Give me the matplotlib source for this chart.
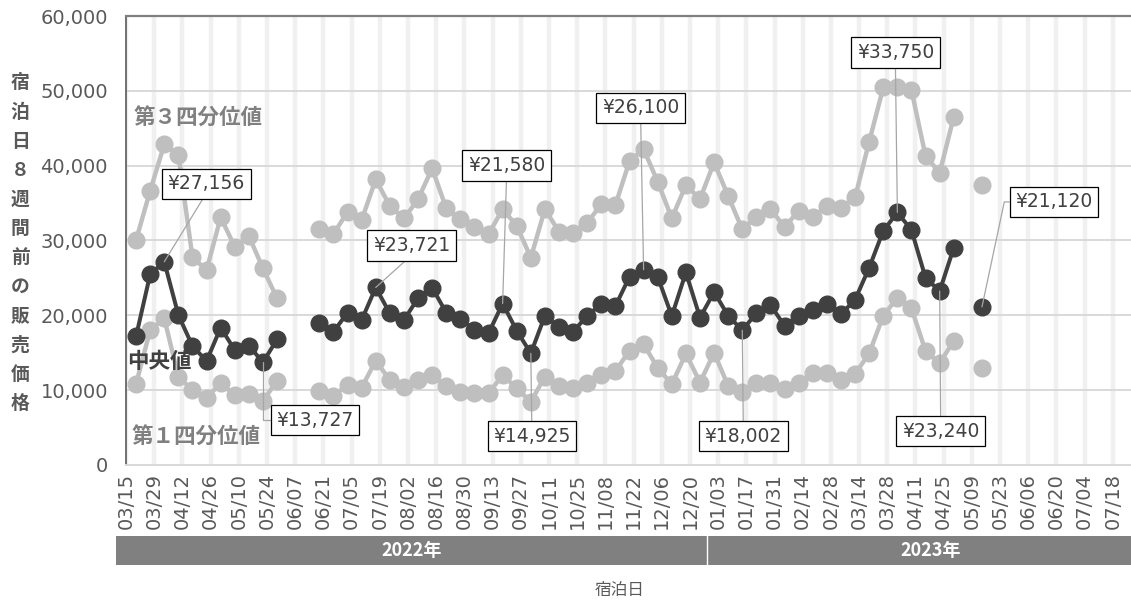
import numpy as np
import pandas as pd
import matplotlib
matplotlib.use("Agg")
import matplotlib.pyplot as plt
from matplotlib.patches import Rectangle
from matplotlib.transforms import blended_transform_factory

plt.rcParams['font.family'] = ['DejaVu Sans', 'Noto Sans CJK JP']

# weekly stay dates (Sundays)
week_dates = pd.date_range("2022-03-20", periods=61, freq="7D")
nan = np.nan

median = [17200, 25480, 27156, 20040, 15900, 13900, 18350, 15360, 15940, 13727,
          16790, nan, nan, 18930, 17810, 20350, 19370, 23721, 20260, 19370,
          22300, 23700, 20350, 19500, 18100, 17600, 21580, 17950, 14925, 19950,
          18390, 17810, 19950, 21510, 21240, 25160, 26100, 25160, 19900, 25740,
          19700, 23100, 19950, 18002, 20300, 21380, 18600, 19950, 20650, 21550,
          20150, 22100, 26360, 31300, 33750, 31400, 25000, 23240, 29030, nan,
          21120]

q3 = [30060, 36650, 42840, 41420, 27750, 26050, 33090, 29170, 30590, 26280,
      22270, nan, nan, 31490, 30860, 33840, 32730, 38170, 34600, 32960,
      35500, 39640, 34300, 32850, 31760, 30820, 34200, 31970, 27700, 34200,
      31170, 30950, 32370, 34830, 34740, 40610, 42220, 37850, 32960, 37410,
      35540, 40440, 35940, 31490, 33170, 34200, 31800, 33950, 33170, 34600,
      34350, 35760, 43200, 50460, 50460, 50100, 41280, 39050, 46530, nan,
      37410]

q1 = [10820, 18040, 19600, 11800, 10020, 8990, 10910, 9350, 9490, 8550,
      11270, nan, nan, 9930, 9260, 10690, 10330, 13940, 11360, 10460,
      11400, 11980, 10500, 9800, 9580, 9580, 12020, 10240, 8460, 11800,
      10550, 10240, 10910, 12020, 12560, 15270, 16120, 13000, 10780, 14900,
      11020, 15000, 10550, 9710, 10910, 10910, 10150, 10910, 12290, 12330,
      11400, 12160, 14920, 19950, 22360, 20930, 15230, 13590, 16610, nan,
      12920]

# tick label dates (every 2 weeks)
tick_dates = pd.date_range("2022-03-15", periods=36, freq="14D")
tick_labels = [d.strftime("%m/%d") for d in tick_dates]

years = ["2022年", "2023年"]

# labelled median points: index, offset (px), anchor on box, connection
callouts = [
    (2, (42, 78), (0.5, 0), "arc3"),
    (9, (52, -58), (0, 0.5), "angle,angleA=0,angleB=90,rad=0"),
    (17, (36, 42), (0.5, 0), "arc3"),
    (26, (4, 138), (0.5, 0), "arc3"),
    (28, (1, -83), (0.5, 1), "arc3"),
    (36, (-3, 162), (0.5, 0), "arc3"),
    (43, (1, -106), (0.5, 1), "arc3"),
    (54, (-2, 160), (0.5, 0), "arc3"),
    (57, (1, -140), (0.5, 1), "arc3"),
    (60, (72, 105), (0, 0.5), "angle,angleA=0,angleB=78,rad=0"),
]

W, H = 1131, 603
fig = plt.figure(figsize=(W / 100, H / 100), dpi=100)
ax = fig.add_axes([126 / W, 1 - 465 / H, 1 - 126 / W, (465 - 16) / H])

origin = tick_dates[0]
x = np.array([(d - origin).days for d in week_dates])
xt = np.array([(d - origin).days for d in tick_dates])

for t in xt:
    ax.axvline(t, color='#f0f0f0', lw=3.2, zorder=0)
ax.yaxis.grid(True, color='#d9d9d9', lw=1.4, zorder=0.5)
ax.set_axisbelow(True)

ax.plot(x, q3, color='#bfbfbf', lw=3.2, marker='o', ms=12, zorder=2)
ax.plot(x, q1, color='#bfbfbf', lw=3.2, marker='o', ms=12, zorder=2)
ax.plot(x, median, color='#404040', lw=2.9, marker='o', ms=12, zorder=3)

ax.set_xlim(0, 499)
ax.set_ylim(0, 60000)
ax.set_yticks(np.arange(0, 60001, 10000))
ax.set_yticklabels([f"{v:,}" for v in range(0, 60001, 10000)])
ax.set_xticks(xt)
ax.set_xticklabels(tick_labels, rotation=90)
ax.tick_params(axis='y', length=0, pad=13, labelsize=14, labelcolor='#595959')
ax.tick_params(axis='x', length=0, pad=6, labelsize=14, labelcolor='#595959')
ax.spines['right'].set_visible(False)
ax.spines['top'].set_color('#808080')
ax.spines['top'].set_linewidth(1.6)
ax.spines['left'].set_color('#595959')
ax.spines['left'].set_linewidth(1.2)
ax.spines['bottom'].set_color('#d9d9d9')
ax.spines['bottom'].set_linewidth(1.4)

for i, (dx, dy), rel, conn in callouts:
    ax.annotate(f"¥{median[i]:,.0f}", xy=(x[i], median[i]),
                xytext=(dx * 0.72, dy * 0.72), textcoords='offset points',
                ha='center', va='center', fontsize=13.5, color='#404040',
                bbox=dict(boxstyle='square,pad=0.3', fc='white', ec='black', lw=0.9),
                arrowprops=dict(arrowstyle='-', color='#a6a6a6', lw=0.9,
                                relpos=rel, connectionstyle=conn,
                                shrinkA=0, shrinkB=0),
                zorder=5)

cjk = ['Noto Sans CJK JP']
fig.text(198 / W, 1 - 118 / H, "第３四分位値", fontsize=15.5, fontweight='bold',
         color='#808080', ha='center', va='center', family=cjk)
fig.text(159 / W, 1 - 361 / H, "中央値", fontsize=15.5, fontweight='bold',
         color='#404040', ha='center', va='center', family=cjk, zorder=6)
fig.text(196 / W, 1 - 437 / H, "第１四分位値", fontsize=15.5, fontweight='bold',
         color='#808080', ha='center', va='center', family=cjk)

for k, ch in enumerate("宿泊日８週間前の販売価格"):
    fig.text(20 / W, 1 - (83 + 29.1 * k) / H, ch, fontsize=13.5, fontweight='bold',
             color='#595959', ha='center', va='center', family=cjk)

fig.text(620 / W, 1 - 590 / H, "宿泊日", fontsize=12, color='#595959',
         ha='center', va='center', family=cjk)

# year band under the axis
tr = blended_transform_factory(ax.transData, fig.transFigure)
last_2022 = x[week_dates.year == 2022].max()
first_2023 = x[week_dates.year == 2023].min()
split = (last_2022 + first_2023) / 2
x0 = -5
x1 = 510
y0, y1 = 1 - 565 / H, 1 - 536 / H
for (a, b), label in zip([(x0, split), (split, x1)], years):
    fig.add_artist(Rectangle((a, y0), b - a, y1 - y0, transform=tr,
                             fc='#808080', ec='none', clip_on=False))
    fig.text((a + b) / 2, (y0 + y1) / 2, label, transform=tr, ha='center',
             va='center', color='white', fontsize=13, fontweight='bold',
             family=cjk)
fig.add_artist(plt.Line2D([split, split], [y0, y1], transform=tr,
                          color='white', lw=1))

fig.savefig("out.png", dpi=100)
